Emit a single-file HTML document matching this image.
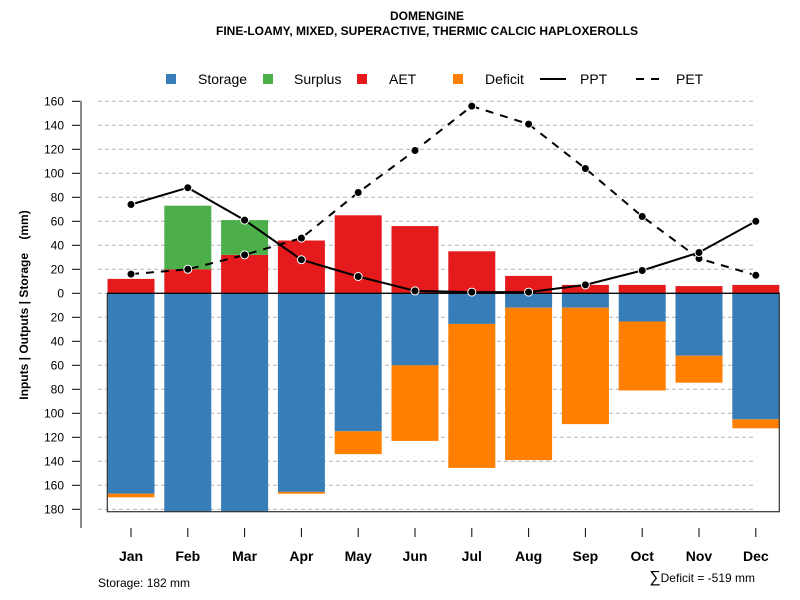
<!DOCTYPE html>
<html><head><meta charset="utf-8"><style>
body{margin:0;background:#fff;}
svg{display:block;font-family:"Liberation Sans",sans-serif;}
</style></head><body>
<svg id="c" width="800" height="600" xmlns="http://www.w3.org/2000/svg">
<text x="427" y="20" text-anchor="middle" font-size="12" font-weight="bold">DOMENGINE</text>
<text x="427" y="35" text-anchor="middle" font-size="12" font-weight="bold">FINE-LOAMY, MIXED, SUPERACTIVE, THERMIC CALCIC HAPLOXEROLLS</text>
<g id="grid"></g><g id="bars"></g><g id="lines"></g><g id="axes"></g>
<g font-size="14">
<rect x="166" y="74" width="10" height="10" fill="#377eb8"/>
<text x="198" y="84">Storage</text>
<rect x="263" y="74" width="10" height="10" fill="#4daf4a"/>
<text x="294" y="84">Surplus</text>
<rect x="357" y="74" width="10" height="10" fill="#e41a1c"/>
<text x="389" y="84">AET</text>
<rect x="453" y="74" width="10" height="10" fill="#ff7f00"/>
<text x="485" y="84">Deficit</text>
<line x1="540" y1="79" x2="566" y2="79" stroke="#000" stroke-width="2"/>
<text x="580" y="84">PPT</text>
<line x1="636" y1="79" x2="664" y2="79" stroke="#000" stroke-width="2" stroke-dasharray="8,7"/>
<text x="676" y="84">PET</text>
</g>
<text transform="translate(28,305) rotate(-90)" text-anchor="middle" font-size="12" font-weight="bold">Inputs | Outputs | Storage&#160;&#160;&#160;&#160;(mm)</text>
<text x="98" y="587" font-size="12">Storage: 182 mm</text>
<text x="755" y="582" text-anchor="end" font-size="12"><tspan font-size="16">∑</tspan>Deficit = -519 mm</text>
</svg>
<script>
const months=["Jan","Feb","Mar","Apr","May","Jun","Jul","Aug","Sep","Oct","Nov","Dec"];
const aet=[12,20,32,44,65,56,35,14.5,7,7,6,7];
const surplus=[0,53,29,0,0,0,0,0,0,0,0,0];
const storage=[167,182,182,165.5,115,60,25.5,12,12,23.5,52,105];
const deficit=[3,0,0,1.5,19,63,120,127,97,57.5,22.5,7.5];
const ppt=[74,88,61,28,14,2,1,1,7,19,34,60];
const pet=[16,20,32,46,84,119,156,141,104,64,29,15];
const yTicks=[160,140,120,100,80,60,40,20,0,-20,-40,-60,-80,-100,-120,-140,-160,-180];
const storageMax=182;
const NS="http://www.w3.org/2000/svg";
const y=v=>293.3-v*1.2;
const x=i=>131+i*56.8;
const bw=47;
function mk(p,t,a){const e=document.createElementNS(NS,t);for(const k in a)e.setAttribute(k,a[k]);document.getElementById(p).appendChild(e);return e;}
yTicks.forEach(t=>{
 const g=mk('grid','line',{x1:98,x2:755,y1:y(t),y2:y(t),stroke:'#b3b3b3','stroke-dasharray':'4,3'});
 
 
 const tk=mk('axes','line',{x1:72,x2:81,y1:y(t),y2:y(t),stroke:'#000'});
 
 
 const l=mk('axes','text',{x:64,y:y(t)+4,'text-anchor':'end','font-size':12});
 l.textContent=Math.abs(t);
 
 
});
const ax=mk('axes','line',{x1:81,x2:81,y1:101,y2:528,stroke:'#888','stroke-width':2});


months.forEach((m,i)=>{
 const cx=x(i),l=cx-bw/2;
 const r1=mk('bars','rect',{x:l,y:y(aet[i]),width:bw,height:aet[i]*1.2,fill:'#e41a1c'});
 
 
 const r2=mk('bars','rect',{x:l,y:y(aet[i]+surplus[i]),width:bw,height:surplus[i]*1.2,fill:'#4daf4a'});
 
 
 const r3=mk('bars','rect',{x:l,y:y(0),width:bw,height:storage[i]*1.2,fill:'#377eb8'});
 
 
 const r4=mk('bars','rect',{x:l,y:y(-storage[i]),width:bw,height:deficit[i]*1.2,fill:'#ff7f00'});
 
 
 const tk=mk('axes','line',{x1:cx,x2:cx,y1:528,y2:537,stroke:'#000'});
 
 
 const lb=mk('axes','text',{x:cx,y:561,'text-anchor':'middle','font-size':14,'font-weight':'bold'});
 lb.textContent=m;
 
 
});
const box=mk('bars','rect',{x:107.3,y:y(0),width:672,height:storageMax*1.2,fill:'none',stroke:'#333','stroke-width':1.2});


const zl=mk('bars','line',{x1:107.3,x2:779.3,y1:y(0),y2:y(0),stroke:'#000','stroke-width':1.2});


function series(vals,name,dash){
 const p=mk('lines','polyline',{points:vals.map((v,i)=>x(i)+','+y(v)).join(' '),fill:'none',stroke:'#000','stroke-width':2,'stroke-dasharray':dash});
 
 
 vals.forEach((v,i)=>{
  const c=mk('lines','circle',{cx:x(i),cy:y(v),r:4,fill:'#000',stroke:'#fff','stroke-width':1});
  
  
 });
}
series(pet,'pet','8,7');
series(ppt,'ppt','none');
</script>
</body></html>
